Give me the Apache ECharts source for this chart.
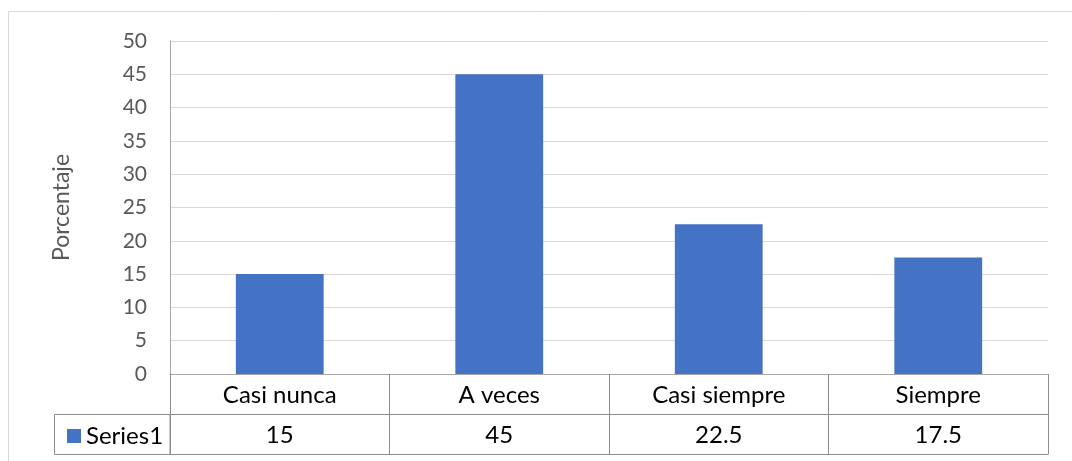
<!DOCTYPE html>
<html>
<head>
<meta charset="utf-8">
<script src="https://cdn.jsdelivr.net/npm/echarts@6/dist/echarts.min.js"></script>
<style>
  html, body { margin: 0; padding: 0; background: #fff; }
  #chart { width: 1072px; height: 461px; }
</style>
</head>
<body>
<div id="chart"></div>
<script>
// Frequency of each answer, in percent
const categories = ['Casi nunca', 'A veces', 'Casi siempre', 'Siempre'];
const seriesName = 'Series1';
const values = [15, 45, 22.5, 17.5];
const yTicks = { min: 0, max: 50, interval: 5 };

const FONT = 'Lato, "Open Sans", sans-serif';
const TABLE_LINE = '#8c8c8c';
const BAR = '#4472C4';
const TABLE_FONT = 24;

const chart = echarts.init(document.getElementById('chart'), null, { renderer: 'canvas' });

chart.setOption({
  animation: false,
  textStyle: { fontFamily: FONT },
  grid: { left: 170, right: 24, top: 41, bottom: 87, containLabel: false },
  legend: {
    data: [seriesName],
    left: 62, top: 419,
    icon: 'rect', itemWidth: 14, itemHeight: 14, itemGap: 6,
    textStyle: { fontFamily: FONT, fontSize: TABLE_FONT, color: '#000' },
    selectedMode: false
  },
  xAxis: [
    {
      // category row of the data table
      type: 'category', data: categories, position: 'bottom',
      axisLine: { show: true, lineStyle: { color: '#a6a6a6', width: 1 } },
      axisTick: { show: true, interval: 0, length: 80, lineStyle: { color: TABLE_LINE, width: 1 } },
      axisLabel: { interval: 0, margin: 9, fontFamily: FONT, fontSize: TABLE_FONT, color: '#000' }
    },
    {
      // value row of the data table
      type: 'category', data: values.map(String), position: 'bottom', offset: 40,
      axisLine: { show: true, lineStyle: { color: TABLE_LINE, width: 1 } },
      axisTick: { show: false },
      axisLabel: { interval: 0, margin: 9, fontFamily: FONT, fontSize: TABLE_FONT, color: '#000' }
    },
    {
      // bottom edge of the data table
      type: 'category', data: categories, position: 'bottom', offset: 80,
      axisLine: { show: true, lineStyle: { color: TABLE_LINE, width: 1 } },
      axisTick: { show: false },
      axisLabel: { show: false }
    }
  ],
  yAxis: {
    type: 'value', min: yTicks.min, max: yTicks.max, interval: yTicks.interval,
    name: 'Porcentaje', nameLocation: 'middle', nameGap: 97,
    nameTextStyle: { fontFamily: FONT, fontSize: 23, color: '#595959' },
    axisLine: { show: true, lineStyle: { color: '#a6a6a6', width: 1 } },
    axisTick: { show: false },
    axisLabel: { margin: 23, fontFamily: FONT, fontSize: 21, color: '#595959' },
    splitLine: { show: true, lineStyle: { color: '#d9d9d9', width: 1 } }
  },
  series: [{
    name: seriesName, type: 'bar', data: values, xAxisIndex: 0,
    barWidth: '40%', itemStyle: { color: BAR }
  }],
  graphic: [
    {
      // chart area frame
      type: 'rect', silent: true, z: -1,
      shape: { x: 8.5, y: 11.5, width: 1080, height: 470 },
      style: { fill: 'none', stroke: '#d9d9d9', lineWidth: 1 }
    },
    {
      // legend-key cell of the data table
      type: 'rect', silent: true,
      shape: { x: 54.5, y: 414.5, width: 115.5, height: 40 },
      style: { fill: 'none', stroke: TABLE_LINE, lineWidth: 1 }
    }
  ]
});
</script>
</body>
</html>
